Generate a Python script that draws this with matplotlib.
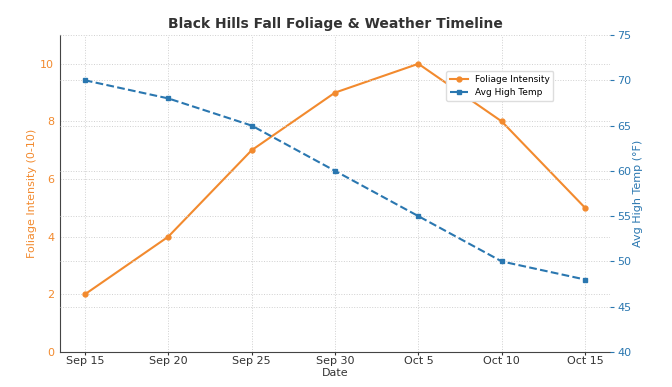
import matplotlib
matplotlib.use("Agg")
import matplotlib.pyplot as plt

dates = ["Sep 15", "Sep 20", "Sep 25", "Sep 30", "Oct 5", "Oct 10", "Oct 15"]
foliage = [2, 4, 7, 9, 10, 8, 5]
temp = [70, 68, 65, 60, 55, 50, 48]

orange = "#f28a2e"
blue = "#2a77b0"

fig = plt.figure(figsize=(6.72, 3.87), dpi=100)
ax1 = fig.add_axes([0.089, 0.0904, 0.819, 0.8192])
x = list(range(len(dates)))
l1, = ax1.plot(x, foliage, color=orange, marker="o", markersize=3.5, linewidth=1.5, label="Foliage Intensity")
ax1.set_ylim(0, 11)
ax1.set_yticks([0, 2, 4, 6, 8, 10])
ax1.set_xticks(x)
ax1.set_xticklabels(dates)
ax1.set_xlabel("Date", fontsize=8, color="#333333", labelpad=1)
ax1.set_ylabel("Foliage Intensity (0-10)", fontsize=8, color=orange, labelpad=2)
ax1.tick_params(axis="y", colors=orange, labelsize=8, length=0, pad=4)
ax1.tick_params(axis="x", colors="#333333", labelsize=8, length=2, pad=1)
ax1.grid(True, linestyle=":", color="#d0d0d0", linewidth=0.7)
for s in ["top", "right"]:
    ax1.spines[s].set_visible(False)
for s in ["left", "bottom"]:
    ax1.spines[s].set_color("#444444")

ax2 = ax1.twinx()
l2, = ax2.plot(x, temp, color=blue, marker="s", markersize=3.5, linewidth=1.5, linestyle="--", label="Avg High Temp")
ax2.set_ylim(40, 75)
ax2.set_ylabel("Avg High Temp (°F)", fontsize=8, color=blue, labelpad=1)
ax2.tick_params(axis="y", colors=blue, labelsize=8, length=3, pad=2)
ax2.grid(True, axis="y", linestyle=":", color="#d0d0d0", linewidth=0.7)
for s in ["top", "right", "left", "bottom"]:
    ax2.spines[s].set_visible(False)

ax1.set_title("Black Hills Fall Foliage & Weather Timeline", fontsize=10, fontweight="bold", color="#333333", pad=5)
ax2.legend([l1, l2], ["Foliage Intensity", "Avg High Temp"], loc="upper right",
           bbox_to_anchor=(0.905, 0.9), fontsize=6.5, frameon=True, framealpha=1, edgecolor="#dddddd")

fig.savefig("out.png", dpi=100)
